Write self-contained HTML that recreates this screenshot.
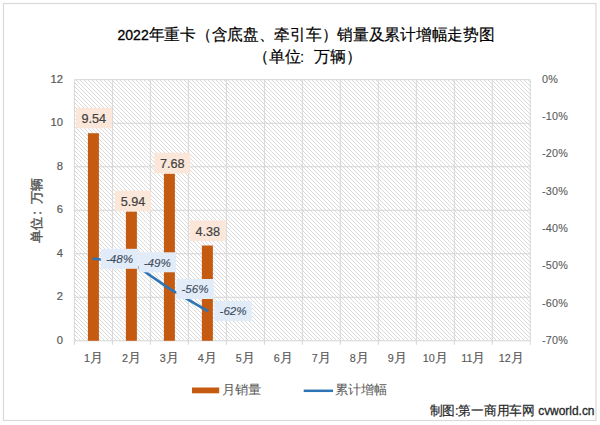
<!DOCTYPE html>
<html><head><meta charset="utf-8">
<style>
html,body{margin:0;padding:0;background:#fff;}
body{width:600px;height:425px;overflow:hidden;position:relative;font-family:"Liberation Sans",sans-serif;}
svg{position:absolute;left:0;top:0;}
</style></head><body>
<svg width="600" height="425" viewBox="0 0 600 425">
<defs>
<pattern id="h" patternUnits="userSpaceOnUse" width="4" height="4" x="0" y="0">
<path d="M-1,-1 L5,5 M-3,1 L3,7 M1,-3 L7,3" stroke="#D8D8D8" stroke-width="0.95"/>
</pattern>
</defs>
<rect x="3.5" y="3.5" width="592.5" height="417" fill="#fff" stroke="#D9D9D9" stroke-width="1.2"/>
<rect x="74.4" y="79.7" width="455.90" height="261.10" fill="url(#h)"/>
<g stroke="#D6D6D6" stroke-width="1" fill="none"><line x1="74.4" y1="340.80" x2="530.3" y2="340.80"/><line x1="74.4" y1="297.28" x2="530.3" y2="297.28"/><line x1="74.4" y1="253.77" x2="530.3" y2="253.77"/><line x1="74.4" y1="210.25" x2="530.3" y2="210.25"/><line x1="74.4" y1="166.73" x2="530.3" y2="166.73"/><line x1="74.4" y1="123.22" x2="530.3" y2="123.22"/><line x1="74.4" y1="79.70" x2="530.3" y2="79.70"/><line x1="74.40" y1="79.7" x2="74.40" y2="344.8"/><line x1="112.39" y1="79.7" x2="112.39" y2="344.8"/><line x1="150.38" y1="79.7" x2="150.38" y2="344.8"/><line x1="188.38" y1="79.7" x2="188.38" y2="344.8"/><line x1="226.37" y1="79.7" x2="226.37" y2="344.8"/><line x1="264.36" y1="79.7" x2="264.36" y2="344.8"/><line x1="302.35" y1="79.7" x2="302.35" y2="344.8"/><line x1="340.34" y1="79.7" x2="340.34" y2="344.8"/><line x1="378.33" y1="79.7" x2="378.33" y2="344.8"/><line x1="416.33" y1="79.7" x2="416.33" y2="344.8"/><line x1="454.32" y1="79.7" x2="454.32" y2="344.8"/><line x1="492.31" y1="79.7" x2="492.31" y2="344.8"/><line x1="530.30" y1="79.7" x2="530.30" y2="344.8"/></g>
<rect x="87.90" y="133.23" width="11" height="207.57" fill="#C55A11"/>
<rect x="125.89" y="211.56" width="11" height="129.24" fill="#C55A11"/>
<rect x="163.88" y="173.70" width="11" height="167.10" fill="#C55A11"/>
<rect x="201.87" y="245.50" width="11" height="95.30" fill="#C55A11"/>
<polyline points="93.40,258.74 131.39,262.47 169.38,288.58 207.37,310.96" fill="none" stroke="#2E75B6" stroke-width="2.6" stroke-linejoin="round" stroke-linecap="round"/>
<rect x="75.85" y="107.70" width="36" height="20.6" fill="#FBE7D9"/>
<text x="81.55" y="122.80" textLength="24.6" lengthAdjust="spacingAndGlyphs" font-size="13.3" fill="#404040" stroke="#404040" stroke-width="0.2" font-family="Liberation Sans">9.54</text>
<rect x="115.00" y="190.65" width="36" height="20.6" fill="#FBE7D9"/>
<text x="120.70" y="205.75" textLength="24.6" lengthAdjust="spacingAndGlyphs" font-size="13.3" fill="#404040" stroke="#404040" stroke-width="0.2" font-family="Liberation Sans">5.94</text>
<rect x="154.25" y="152.75" width="36" height="20.6" fill="#FBE7D9"/>
<text x="159.95" y="167.85" textLength="24.6" lengthAdjust="spacingAndGlyphs" font-size="13.3" fill="#404040" stroke="#404040" stroke-width="0.2" font-family="Liberation Sans">7.68</text>
<rect x="189.75" y="220.40" width="36" height="20.6" fill="#FBE7D9"/>
<text x="195.45" y="235.50" textLength="24.6" lengthAdjust="spacingAndGlyphs" font-size="13.3" fill="#404040" stroke="#404040" stroke-width="0.2" font-family="Liberation Sans">4.38</text>
<rect x="100.80" y="248.80" width="37.4" height="20" fill="#E1ECF8"/>
<text x="105.90" y="263.00" textLength="27.2" lengthAdjust="spacingAndGlyphs" font-size="11.7" font-style="italic" fill="#3E4C5E" stroke="#3E4C5E" stroke-width="0.12" font-family="Liberation Sans">-48%</text>
<rect x="138.55" y="252.30" width="37.4" height="20" fill="#E1ECF8"/>
<text x="143.65" y="266.50" textLength="27.2" lengthAdjust="spacingAndGlyphs" font-size="11.7" font-style="italic" fill="#3E4C5E" stroke="#3E4C5E" stroke-width="0.12" font-family="Liberation Sans">-49%</text>
<rect x="176.30" y="279.00" width="37.4" height="20" fill="#E1ECF8"/>
<text x="181.40" y="293.20" textLength="27.2" lengthAdjust="spacingAndGlyphs" font-size="11.7" font-style="italic" fill="#3E4C5E" stroke="#3E4C5E" stroke-width="0.12" font-family="Liberation Sans">-56%</text>
<rect x="214.40" y="301.00" width="37.4" height="20" fill="#E1ECF8"/>
<text x="219.50" y="315.20" textLength="27.2" lengthAdjust="spacingAndGlyphs" font-size="11.7" font-style="italic" fill="#3E4C5E" stroke="#3E4C5E" stroke-width="0.12" font-family="Liberation Sans">-62%</text>
<text x="63" y="344.00" text-anchor="end" font-size="11.2" fill="#595959" stroke="#595959" stroke-width="0.2" font-family="Liberation Sans">0</text>
<text x="63" y="300.48" text-anchor="end" font-size="11.2" fill="#595959" stroke="#595959" stroke-width="0.2" font-family="Liberation Sans">2</text>
<text x="63" y="256.97" text-anchor="end" font-size="11.2" fill="#595959" stroke="#595959" stroke-width="0.2" font-family="Liberation Sans">4</text>
<text x="63" y="213.45" text-anchor="end" font-size="11.2" fill="#595959" stroke="#595959" stroke-width="0.2" font-family="Liberation Sans">6</text>
<text x="63" y="169.93" text-anchor="end" font-size="11.2" fill="#595959" stroke="#595959" stroke-width="0.2" font-family="Liberation Sans">8</text>
<text x="63" y="126.42" text-anchor="end" font-size="11.2" fill="#595959" stroke="#595959" stroke-width="0.2" font-family="Liberation Sans">10</text>
<text x="63" y="82.90" text-anchor="end" font-size="11.2" fill="#595959" stroke="#595959" stroke-width="0.2" font-family="Liberation Sans">12</text>
<text x="542" y="82.70" font-size="10.8" letter-spacing="0.2" fill="#595959" stroke="#595959" stroke-width="0.1" font-family="Liberation Sans">0%</text>
<text x="542" y="120.00" font-size="10.8" letter-spacing="0.2" fill="#595959" stroke="#595959" stroke-width="0.1" font-family="Liberation Sans">-10%</text>
<text x="542" y="157.30" font-size="10.8" letter-spacing="0.2" fill="#595959" stroke="#595959" stroke-width="0.1" font-family="Liberation Sans">-20%</text>
<text x="542" y="194.60" font-size="10.8" letter-spacing="0.2" fill="#595959" stroke="#595959" stroke-width="0.1" font-family="Liberation Sans">-30%</text>
<text x="542" y="231.90" font-size="10.8" letter-spacing="0.2" fill="#595959" stroke="#595959" stroke-width="0.1" font-family="Liberation Sans">-40%</text>
<text x="542" y="269.20" font-size="10.8" letter-spacing="0.2" fill="#595959" stroke="#595959" stroke-width="0.1" font-family="Liberation Sans">-50%</text>
<text x="542" y="306.50" font-size="10.8" letter-spacing="0.2" fill="#595959" stroke="#595959" stroke-width="0.1" font-family="Liberation Sans">-60%</text>
<text x="542" y="343.80" font-size="10.8" letter-spacing="0.2" fill="#595959" stroke="#595959" stroke-width="0.1" font-family="Liberation Sans">-70%</text>
<text x="93.40" y="361.60" text-anchor="middle" font-size="13" fill="#595959" stroke="#595959" stroke-width="0.15" font-family="Liberation Sans"><tspan font-size="10.8">1</tspan>月</text>
<text x="131.39" y="361.60" text-anchor="middle" font-size="13" fill="#595959" stroke="#595959" stroke-width="0.15" font-family="Liberation Sans"><tspan font-size="10.8">2</tspan>月</text>
<text x="169.38" y="361.60" text-anchor="middle" font-size="13" fill="#595959" stroke="#595959" stroke-width="0.15" font-family="Liberation Sans"><tspan font-size="10.8">3</tspan>月</text>
<text x="207.37" y="361.60" text-anchor="middle" font-size="13" fill="#595959" stroke="#595959" stroke-width="0.15" font-family="Liberation Sans"><tspan font-size="10.8">4</tspan>月</text>
<text x="245.36" y="361.60" text-anchor="middle" font-size="13" fill="#595959" stroke="#595959" stroke-width="0.15" font-family="Liberation Sans"><tspan font-size="10.8">5</tspan>月</text>
<text x="283.35" y="361.60" text-anchor="middle" font-size="13" fill="#595959" stroke="#595959" stroke-width="0.15" font-family="Liberation Sans"><tspan font-size="10.8">6</tspan>月</text>
<text x="321.35" y="361.60" text-anchor="middle" font-size="13" fill="#595959" stroke="#595959" stroke-width="0.15" font-family="Liberation Sans"><tspan font-size="10.8">7</tspan>月</text>
<text x="359.34" y="361.60" text-anchor="middle" font-size="13" fill="#595959" stroke="#595959" stroke-width="0.15" font-family="Liberation Sans"><tspan font-size="10.8">8</tspan>月</text>
<text x="397.33" y="361.60" text-anchor="middle" font-size="13" fill="#595959" stroke="#595959" stroke-width="0.15" font-family="Liberation Sans"><tspan font-size="10.8">9</tspan>月</text>
<text x="435.32" y="361.60" text-anchor="middle" font-size="13" fill="#595959" stroke="#595959" stroke-width="0.15" font-family="Liberation Sans"><tspan font-size="10.8">10</tspan>月</text>
<text x="473.31" y="361.60" text-anchor="middle" font-size="13" fill="#595959" stroke="#595959" stroke-width="0.15" font-family="Liberation Sans"><tspan font-size="10.8">11</tspan>月</text>
<text x="511.30" y="361.60" text-anchor="middle" font-size="13" fill="#595959" stroke="#595959" stroke-width="0.15" font-family="Liberation Sans"><tspan font-size="10.8">12</tspan>月</text>
<rect x="192" y="387.5" width="27.2" height="5.8" fill="#C55A11"/>
<text x="221.6" y="394" textLength="40" lengthAdjust="spacingAndGlyphs" font-size="12.5" fill="#595959" font-family="Liberation Sans">月销量</text>
<line x1="303.7" y1="390.8" x2="333" y2="390.8" stroke="#2E75B6" stroke-width="2.5"/>
<text x="334.6" y="394" textLength="52.6" lengthAdjust="spacingAndGlyphs" font-size="12.5" fill="#595959" font-family="Liberation Sans">累计增幅</text>
<text transform="translate(41,209.5) rotate(-90)" font-size="12.5" fill="#595959" stroke="#595959" stroke-width="0.45" font-family="Liberation Sans"><tspan x="-33.0">单位</tspan><tspan x="-5.2" font-size="13">:</tspan><tspan x="5.6">万辆</tspan></text>
<text x="117.5" y="40" textLength="377" lengthAdjust="spacingAndGlyphs" font-size="15.5" fill="#000" stroke="#000" stroke-width="0.18" font-family="Liberation Sans"><tspan font-size="14.3" stroke-width="0.3">2022</tspan>年重卡（含底盘、牵引车）销量及累计增幅走势图</text>
<text y="62" font-size="15.5" fill="#000" stroke="#000" stroke-width="0.18" font-family="Liberation Sans"><tspan x="253">（单位</tspan><tspan x="300" font-size="15">:</tspan><tspan x="314">万辆）</tspan></text>
<text x="429.5" y="415" textLength="165" lengthAdjust="spacingAndGlyphs" font-size="12.8" fill="#262626" stroke="#262626" stroke-width="0.2" font-family="Liberation Sans">制图:第一商用车网 <tspan font-size="12.2" stroke-width="0.3">cvworld.cn</tspan></text>
</svg>
</body></html>
